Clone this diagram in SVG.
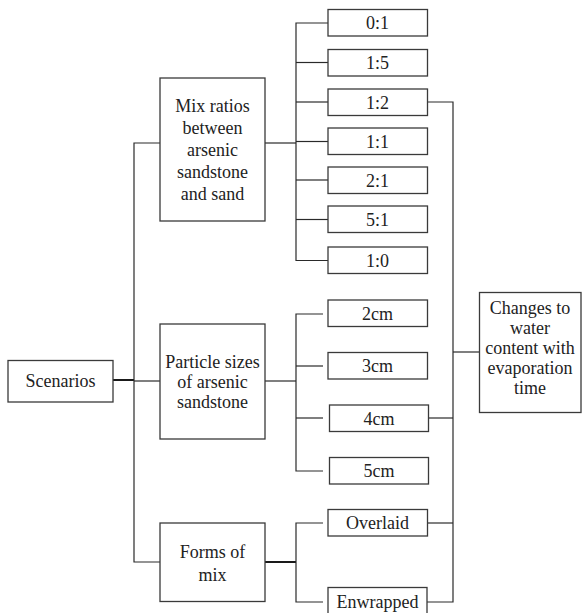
<svg xmlns="http://www.w3.org/2000/svg" width="582" height="613" viewBox="0 0 582 613">
<rect width="582" height="613" fill="#fff"/>
<g id="connectors" fill="none" stroke="#2a2a2a" stroke-width="1.2">
<line stroke="#1a1a1a" stroke-width="2" x1="113" y1="380" x2="134" y2="380"/>
<polyline points="160,143 134,143 134,562 160,562"/>
<line x1="134" y1="381" x2="160" y2="381"/>
<line x1="265" y1="143" x2="296" y2="143"/>
<polyline points="328,23 296,23 296,260.5 328,260.5"/>
<line x1="296" y1="62.5" x2="328" y2="62.5"/>
<line x1="296" y1="102" x2="328" y2="102"/>
<line x1="296" y1="141.5" x2="328" y2="141.5"/>
<line x1="296" y1="180" x2="328" y2="180"/>
<line x1="296" y1="219.5" x2="328" y2="219.5"/>
<line x1="265" y1="381" x2="296" y2="381"/>
<polyline points="323,314 296,314 296,471 323,471"/>
<line x1="296" y1="366" x2="323" y2="366"/>
<line x1="296" y1="418" x2="323" y2="418"/>
<line stroke="#1a1a1a" stroke-width="2" x1="265" y1="562" x2="296" y2="562"/>
<polyline points="323,523 296,523 296,602 323,602"/>
<polyline points="427,102 453,102 453,602 427,602"/>
<line x1="428" y1="418" x2="453" y2="418"/>
<line x1="427" y1="523" x2="453" y2="523"/>
<line x1="453" y1="352" x2="479" y2="352"/>
</g>
<g font-family="Liberation Serif" font-size="18" text-anchor="middle">
<g id="scenarios"><rect fill="#fff" stroke="#3a3a3a" stroke-width="1.3" x="8" y="360.5" width="105" height="41.5"/><text fill="#222" x="60.5" y="387">Scenarios</text></g>
<g id="mix-ratios"><rect fill="#fff" stroke="#3a3a3a" stroke-width="1.3" x="160" y="78" width="105" height="143"/>
<text fill="#222" x="212.5" y="112">Mix ratios</text>
<text fill="#222" x="212.5" y="134">between</text>
<text fill="#222" x="212.5" y="156">arsenic</text>
<text fill="#222" x="212.5" y="178">sandstone</text>
<text fill="#222" x="212.5" y="200">and sand</text></g>
<g id="particle-sizes"><rect fill="#fff" stroke="#3a3a3a" stroke-width="1.3" x="160" y="324" width="105" height="115"/>
<text fill="#222" x="212.5" y="368">Particle sizes</text>
<text fill="#222" x="212.5" y="388">of arsenic</text>
<text fill="#222" x="212.5" y="408">sandstone</text></g>
<g id="forms-of-mix"><rect fill="#fff" stroke="#3a3a3a" stroke-width="1.3" x="160" y="523" width="105" height="78.5"/>
<text fill="#222" x="212.5" y="558">Forms of</text>
<text fill="#222" x="212.5" y="581">mix</text></g>
<g id="r01"><rect fill="#fff" stroke="#3a3a3a" stroke-width="1.3" x="328" y="9.5" width="99.5" height="26.5"/><text fill="#222" x="377.5" y="29">0:1</text></g>
<g id="r15"><rect fill="#fff" stroke="#3a3a3a" stroke-width="1.3" x="328" y="49.5" width="99.5" height="26.5"/><text fill="#222" x="377.5" y="69">1:5</text></g>
<g id="r12"><rect fill="#fff" stroke="#3a3a3a" stroke-width="1.3" x="328" y="89" width="99.5" height="26.5"/><text fill="#222" x="377.5" y="108.5">1:2</text></g>
<g id="r11"><rect fill="#fff" stroke="#3a3a3a" stroke-width="1.3" x="328" y="128" width="99.5" height="26.5"/><text fill="#222" x="377.5" y="147.5">1:1</text></g>
<g id="r21"><rect fill="#fff" stroke="#3a3a3a" stroke-width="1.3" x="328" y="167" width="99.5" height="26.5"/><text fill="#222" x="377.5" y="186.5">2:1</text></g>
<g id="r51"><rect fill="#fff" stroke="#3a3a3a" stroke-width="1.3" x="328" y="206" width="99.5" height="26.5"/><text fill="#222" x="377.5" y="225.5">5:1</text></g>
<g id="r10"><rect fill="#fff" stroke="#3a3a3a" stroke-width="1.3" x="328" y="247" width="99.5" height="26.5"/><text fill="#222" x="377.5" y="266.5">1:0</text></g>
<g id="s2"><rect fill="#fff" stroke="#3a3a3a" stroke-width="1.3" x="328" y="300" width="99.5" height="26.5"/><text fill="#222" x="377.5" y="319.5">2cm</text></g>
<g id="s3"><rect fill="#fff" stroke="#3a3a3a" stroke-width="1.3" x="328" y="352.5" width="99.5" height="26.5"/><text fill="#222" x="377.5" y="372">3cm</text></g>
<g id="s4"><rect fill="#fff" stroke="#3a3a3a" stroke-width="1.3" x="329.5" y="405" width="99" height="26.5"/><text fill="#222" x="379" y="424.5">4cm</text></g>
<g id="s5"><rect fill="#fff" stroke="#3a3a3a" stroke-width="1.3" x="329.5" y="457.5" width="99" height="26.5"/><text fill="#222" x="379" y="477">5cm</text></g>
<g id="overlaid"><rect fill="#fff" stroke="#3a3a3a" stroke-width="1.3" x="328" y="509.5" width="99.5" height="26.5"/><text fill="#222" x="377.5" y="529">Overlaid</text></g>
<g id="enwrapped"><rect fill="#fff" stroke="#3a3a3a" stroke-width="1.3" x="328" y="587.5" width="99" height="30"/><text fill="#222" x="377.5" y="607.5">Enwrapped</text></g>
<g id="changes"><rect fill="#fff" stroke="#3a3a3a" stroke-width="1.3" x="479.5" y="292.5" width="101.5" height="120"/>
<text fill="#222" x="530" y="314">Changes to</text>
<text fill="#222" x="530" y="334">water</text>
<text fill="#222" x="530" y="354">content with</text>
<text fill="#222" x="530" y="374">evaporation</text>
<text fill="#222" x="530" y="394">time</text></g>
</g>
</svg>
